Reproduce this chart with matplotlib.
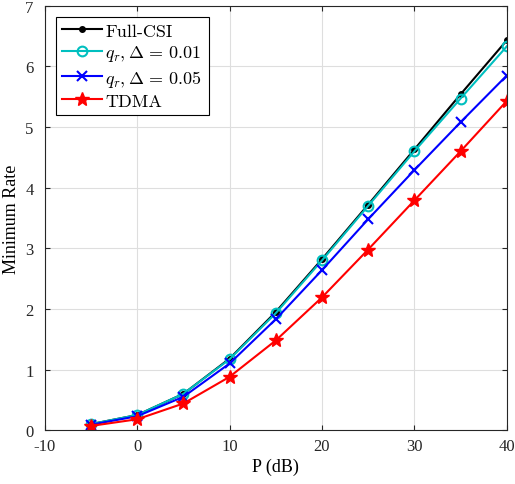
import numpy as np
import matplotlib.pyplot as plt

plt.rcParams['mathtext.fontset'] = 'cm'
plt.rcParams['font.family'] = ['Liberation Serif', 'DejaVu Serif']
plt.rcParams['axes.unicode_minus'] = False

P = [-5, 0, 5, 10, 15, 20, 25, 30, 35, 40]
full_csi = [0.10, 0.25, 0.60, 1.18, 1.95, 2.82, 3.72, 4.63, 5.54, 6.43]
q_001 = [0.10, 0.25, 0.60, 1.17, 1.93, 2.80, 3.70, 4.60, 5.47, 6.33]
q_005 = [0.09, 0.23, 0.55, 1.10, 1.83, 2.64, 3.48, 4.29, 5.08, 5.85]
tdma = [0.07, 0.18, 0.44, 0.88, 1.48, 2.19, 2.98, 3.79, 4.60, 5.43]

fig = plt.figure(figsize=(5.15, 4.85), dpi=100)
ax = fig.add_axes([0.087, 0.111, 0.897, 0.875])

ax.plot(P, full_csi, '-', color='k', marker='.', markersize=8, linewidth=1.5, label='Full-CSI')
ax.plot(P, q_001, '-', color=(0, 0.75, 0.75), marker='o', markersize=7, markerfacecolor='none',
        markeredgewidth=1.5, linewidth=1.5, label=r'$q_r, \Delta\,=\,0.01$')
ax.plot(P, q_005, '-', color='b', marker='x', markersize=7, markeredgewidth=1.5,
        linewidth=1.5, label=r'$q_r, \Delta\,=\,0.05$')
ax.plot(P, tdma, '-', color='r', marker='*', markersize=10, linewidth=1.5, label='TDMA')

ax.set_xlim(-10, 40)
ax.set_ylim(0, 7)
ax.set_xticks(np.arange(-10, 41, 10))
ax.set_yticks(np.arange(0, 8, 1))
ax.grid(True, color=(0.87, 0.87, 0.87), linewidth=0.8)
ax.set_axisbelow(True)
ax.tick_params(direction='in', top=True, right=True, labelsize=12, colors=(0.15, 0.15, 0.15))
ax.tick_params(axis='x', pad=6)
ax.tick_params(axis='y', pad=8)
for s in ax.spines.values():
    s.set_color((0.15, 0.15, 0.15))
ax.set_xlabel('P (dB)', fontsize=13, labelpad=2)
ax.set_ylabel('Minimum Rate', fontsize=13, labelpad=4)

leg = ax.legend(loc='upper left', prop={'family': 'cmr10', 'size': 13}, fancybox=False,
                edgecolor='k', framealpha=1, borderpad=0.35, labelspacing=0.25,
                handlelength=2.2, handletextpad=0.2, borderaxespad=0.6)
leg.get_frame().set_linewidth(0.8)

fig.savefig('out.png', dpi=100)
